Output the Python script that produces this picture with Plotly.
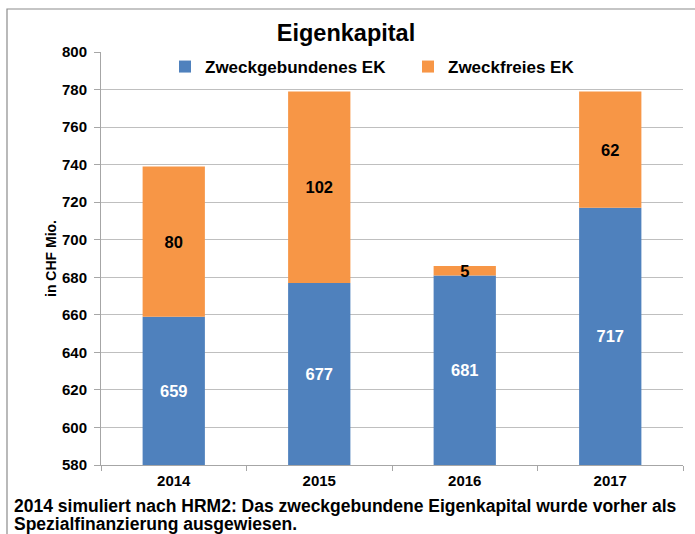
import plotly.graph_objects as go

years = ["2014", "2015", "2016", "2017"]
zweckgebunden = [659, 677, 681, 717]
zweckfrei = [80, 102, 5, 62]
y_min, y_max = 580, 800
y_ticks = list(range(580, 801, 20))

FONT = "Liberation Sans, Arial, sans-serif"

# visible part of the blue bars starts at the axis minimum
blue_len = [v - y_min for v in zweckgebunden]

fig = go.Figure()
fig.add_trace(go.Bar(
    x=years, y=blue_len, base=[y_min] * len(years), name="Zweckgebundenes EK",
    marker=dict(color="#4F81BD", line=dict(width=0)),
    text=[str(v) for v in zweckgebunden], textposition="inside",
    insidetextanchor="middle", textangle=0,
    textfont=dict(color="white", size=16.5, family=FONT, weight="bold"),
    hovertext=[str(v) for v in zweckgebunden], hoverinfo="text+name",
))
fig.add_trace(go.Bar(
    x=years, y=zweckfrei, base=zweckgebunden, name="Zweckfreies EK",
    marker=dict(color="#F79646", line=dict(width=0)),
    text=[str(v) for v in zweckfrei], textposition="inside",
    insidetextanchor="middle", textangle=0,
    textfont=dict(color="black", size=16.5, family=FONT, weight="bold"),
))

L, R, T, B = 101, 12, 52, 69
W, H = 695, 534
pw, ph = W - L - R, H - T - B

def px_x(p):
    return (p - L) / pw

def px_y(p):
    return (H - B - p) / ph

fig.update_layout(
    width=W, height=H,
    barmode="overlay", bargap=0.572,
    margin=dict(l=L, r=R, t=T, b=B),
    paper_bgcolor="white", plot_bgcolor="white",
    font=dict(family=FONT, color="black"),
    uniformtext=dict(minsize=16.5, mode="show"),
    title=dict(text="<b>Eigenkapital</b>", x=px_x(346), xanchor="center", xref="paper",
               y=1 - 33 / H, yanchor="middle",
               font=dict(size=23.5, family=FONT, color="black")),
    legend=dict(orientation="h", x=px_x(165), xanchor="left",
                y=px_y(67), yanchor="middle",
                font=dict(size=17, family=FONT, weight="bold"),
                bgcolor="rgba(0,0,0,0)",
                traceorder="normal", entrywidth=198),
    showlegend=True,
)
fig.update_yaxes(
    range=[y_min, y_max], tickvals=y_ticks,
    showgrid=True, gridcolor="#BFBFBF", gridwidth=1,
    showline=True, linecolor="#A6A6A6", linewidth=1,
    ticks="outside", ticklen=6, tickcolor="#A6A6A6",
    ticklabelstandoff=4,
    tickfont=dict(size=15, family=FONT, weight="bold"),
    title=dict(text="<b>in CHF Mio.</b>", font=dict(size=14, family=FONT), standoff=2),
    zeroline=False,
)
fig.update_xaxes(
    showline=True, linecolor="#A6A6A6", linewidth=1,
    ticks="outside", ticklen=5, tickcolor="#A6A6A6", tickson="boundaries",
    ticklabelstandoff=2,
    tickfont=dict(size=15, family=FONT, weight="bold"),
    showgrid=False,
)

fig.add_shape(type="rect", xref="paper", yref="paper",
              x0=px_x(7), x1=px_x(720), y0=px_y(560), y1=px_y(9),
              line=dict(color="#8C8C8C", width=1.2), fillcolor="rgba(0,0,0,0)",
              layer="below")

foot = [
    "2014 simuliert nach HRM2: Das zweckgebundene Eigenkapital wurde vorher als",
    "Spezialfinanzierung ausgewiesen.",
]
for line, yp in zip(foot, [505.5, 523.5]):
    fig.add_annotation(
        text="<b>" + line + "</b>",
        xref="paper", yref="paper", x=px_x(12), y=px_y(yp), xanchor="left", yanchor="middle",
        align="left", showarrow=False, font=dict(size=17.5, family=FONT, color="black"),
    )

fig.write_html(
    "out.html",
    config={"displayModeBar": False},
    post_script="document.body.style.margin='0';document.body.style.padding='0';",
)
